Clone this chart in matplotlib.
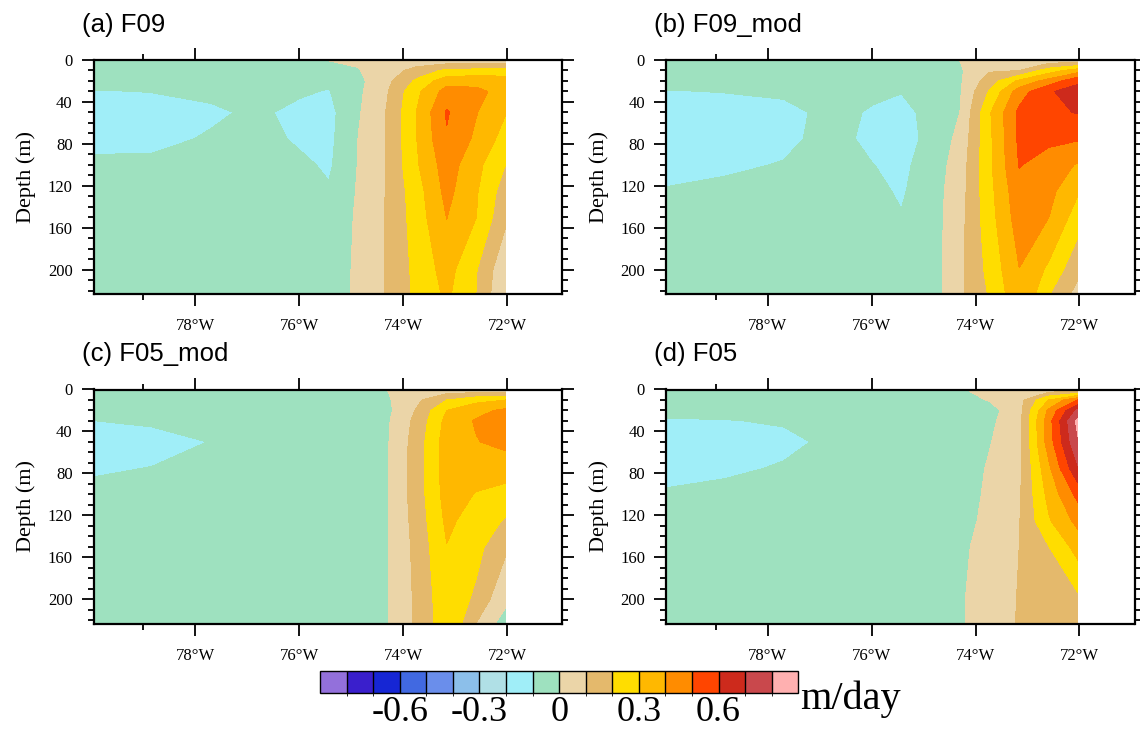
import matplotlib.pyplot as plt
from matplotlib import colors
import numpy as np

# grid of the section (longitude in degrees east, depth in m)
lons = [-79.96, -78.83, -77.69, -77.13, -76.56, -75.99, -75.43,
        -74.86, -74.29, -73.73, -73.16, -72.59, -72.03]
depths = [0, 10, 20, 30, 50, 75, 100, 125, 150, 200, 250]

# vertical velocity (m/day), one row per depth, one column per longitude
f09 = np.array([
    [-0.05, -0.05, -0.05, -0.05, -0.05, -0.04, 0.003, 0.01, 0.02, 0.03, 0.03, 0.03, 0.03],
    [-0.05, -0.05, -0.05, -0.05, -0.05, -0.05, -0.04, -0.004, 0.05, 0.14, 0.22, 0.23, 0.23],
    [-0.07, -0.07, -0.06, -0.05, -0.05, -0.06, -0.085, -0.025, 0.08, 0.22, 0.36, 0.37, 0.36],
    [-0.105, -0.098, -0.08, -0.06, -0.07, -0.09, -0.105, -0.02, 0.098, 0.28, 0.44, 0.42, 0.37],
    [-0.13, -0.13, -0.115, -0.095, -0.097, -0.12, -0.13, -0.01, 0.11, 0.305, 0.51, 0.405, 0.305],
    [-0.13, -0.125, -0.09, -0.07, -0.08, -0.115, -0.125, 0.002, 0.11, 0.302, 0.49, 0.38, 0.26],
    [-0.08, -0.08, -0.06, -0.05, -0.06, -0.08, -0.115, 0.005, 0.11, 0.29, 0.45, 0.33, 0.2],
    [-0.06, -0.06, -0.05, -0.05, -0.05, -0.06, -0.09, 0.01, 0.11, 0.26, 0.43, 0.31, 0.15],
    [-0.05, -0.05, -0.05, -0.05, -0.05, -0.05, -0.07, 0.015, 0.11, 0.25, 0.402, 0.3, 0.12],
    [-0.05, -0.05, -0.05, -0.05, -0.05, -0.05, -0.06, 0.02, 0.11, 0.23, 0.34, 0.205, 0.02],
    [-0.05, -0.05, -0.05, -0.05, -0.05, -0.05, -0.06, 0.02, 0.11, 0.22, 0.3, 0.19, -0.03],
])

f09_mod = np.array([
    [-0.05, -0.05, -0.05, -0.05, -0.05, -0.05, -0.05, -0.03, 0.002, 0.03, 0.03, 0.03, 0.03],
    [-0.05, -0.05, -0.05, -0.05, -0.05, -0.05, -0.05, -0.04, -0.01, 0.09, 0.1, 0.25, 0.35],
    [-0.07, -0.07, -0.06, -0.05, -0.05, -0.06, -0.08, -0.05, -0.01, 0.15, 0.32, 0.44, 0.58],
    [-0.105, -0.097, -0.085, -0.06, -0.07, -0.085, -0.097, -0.06, -0.005, 0.21, 0.45, 0.59, 0.64],
    [-0.14, -0.14, -0.125, -0.095, -0.085, -0.108, -0.125, -0.075, 0.002, 0.29, 0.523, 0.58, 0.605],
    [-0.14, -0.135, -0.12, -0.09, -0.085, -0.12, -0.13, -0.08, 0.03, 0.28, 0.52, 0.52, 0.51],
    [-0.125, -0.115, -0.095, -0.07, -0.07, -0.098, -0.12, -0.06, 0.05, 0.28, 0.505, 0.46, 0.39],
    [-0.095, -0.08, -0.07, -0.06, -0.06, -0.08, -0.11, -0.05, 0.06, 0.27, 0.47, 0.43, 0.31],
    [-0.07, -0.06, -0.05, -0.05, -0.05, -0.06, -0.095, -0.05, 0.07, 0.26, 0.45, 0.4, 0.25],
    [-0.05, -0.05, -0.05, -0.05, -0.05, -0.05, -0.06, -0.05, 0.08, 0.23, 0.398, 0.28, 0.12],
    [-0.05, -0.05, -0.05, -0.05, -0.05, -0.05, -0.05, -0.05, 0.08, 0.19, 0.35, 0.12, 0.02],
])

f05_mod = np.array([
    [-0.05, -0.05, -0.05, -0.05, -0.05, -0.05, -0.05, -0.03, 0.002, 0.03, 0.03, 0.03, 0.03],
    [-0.05, -0.05, -0.05, -0.05, -0.05, -0.05, -0.05, -0.05, -0.01, 0.08, 0.2, 0.27, 0.3],
    [-0.07, -0.07, -0.06, -0.05, -0.05, -0.05, -0.05, -0.05, -0.02, 0.11, 0.3, 0.37, 0.42],
    [-0.1007, -0.09, -0.07, -0.05, -0.05, -0.05, -0.05, -0.05, -0.01, 0.13, 0.33, 0.41, 0.46],
    [-0.13, -0.125, -0.098, -0.06, -0.05, -0.05, -0.05, -0.05, -0.005, 0.147, 0.35, 0.395, 0.43],
    [-0.11, -0.098, -0.07, -0.05, -0.05, -0.05, -0.05, -0.05, -0.002, 0.15, 0.35, 0.34, 0.34],
    [-0.08, -0.07, -0.06, -0.05, -0.05, -0.05, -0.05, -0.05, -0.002, 0.15, 0.34, 0.295, 0.27],
    [-0.06, -0.06, -0.05, -0.05, -0.05, -0.05, -0.05, -0.05, -0.002, 0.14, 0.32, 0.26, 0.19],
    [-0.05, -0.05, -0.05, -0.05, -0.05, -0.05, -0.05, -0.05, -0.002, 0.13, 0.297, 0.23, 0.12],
    [-0.05, -0.05, -0.05, -0.05, -0.05, -0.05, -0.05, -0.05, -0.002, 0.12, 0.27, 0.18, 0.01],
    [-0.05, -0.05, -0.05, -0.05, -0.05, -0.05, -0.05, -0.05, -0.002, 0.12, 0.25, 0.0, -0.05],
])

f05 = np.array([
    [-0.05, -0.05, -0.05, -0.05, -0.05, -0.05, -0.05, -0.04, -0.005, 0.02, 0.02, 0.03, 0.03],
    [-0.05, -0.05, -0.05, -0.05, -0.05, -0.05, -0.05, -0.05, -0.03, 0.005, 0.06, 0.3, 0.5],
    [-0.07, -0.07, -0.06, -0.05, -0.05, -0.05, -0.05, -0.05, -0.05, -0.035, 0.065, 0.42, 0.72],
    [-0.11, -0.105, -0.09, -0.06, -0.05, -0.05, -0.05, -0.05, -0.05, -0.02, 0.065, 0.46, 0.83],
    [-0.14, -0.14, -0.125, -0.097, -0.05, -0.05, -0.05, -0.05, -0.05, -0.005, 0.066, 0.45, 0.79],
    [-0.13, -0.12, -0.09, -0.07, -0.05, -0.05, -0.05, -0.05, -0.05, 0.01, 0.075, 0.38, 0.69],
    [-0.09, -0.07, -0.06, -0.05, -0.05, -0.05, -0.05, -0.05, -0.05, 0.02, 0.088, 0.33, 0.53],
    [-0.06, -0.05, -0.05, -0.05, -0.05, -0.05, -0.05, -0.05, -0.04, 0.03, 0.095, 0.29, 0.43],
    [-0.05, -0.05, -0.05, -0.05, -0.05, -0.05, -0.05, -0.05, -0.02, 0.04, 0.1, 0.198, 0.34],
    [-0.05, -0.05, -0.05, -0.05, -0.05, -0.05, -0.05, -0.05, -0.01, 0.05, 0.105, 0.14, 0.18],
    [-0.05, -0.05, -0.05, -0.05, -0.05, -0.05, -0.05, -0.05, -0.01, 0.05, 0.11, 0.12, 0.12],
])

panels = [f09, f09_mod, f05_mod, f05]
titles = ['(a) F09', '(b) F09_mod', '(c) F05_mod', '(d) F05']

xticks = [-78, -76, -74, -72]
xticklabels = ['78°W', '76°W', '74°W', '72°W']
yticks = [0, 40, 80, 120, 160, 200]

levels = np.round(np.arange(-0.8, 0.81, 0.1), 2)
cbar_ticks = [-0.6, -0.3, 0, 0.3, 0.6]
cbar_labels = ['-0.6', '-0.3', '0', '0.3', '0.6']

# 18 colours: below -0.8, 16 intervals, above 0.8
fill_colors = ['#9370db', '#3a1fcc', '#1626d4', '#4169e1', '#6a8eeb',
               '#8cbfea', '#b0e0e6', '#a0eef8', '#9ee1bf', '#ebd5a8',
               '#e4b96c', '#ffdd00', '#ffb800', '#ff8c00', '#ff4500',
               '#cd2a1c', '#c9484c', '#ffb0b0']

plt.rcParams['font.family'] = ['Liberation Serif', 'DejaVu Sans']

cmap = colors.ListedColormap(fill_colors[1:-1])
cmap.set_under(fill_colors[0])
cmap.set_over(fill_colors[-1])
norm = colors.BoundaryNorm(levels, cmap.N)

W, H = 1140, 731
fig = plt.figure(figsize=(W / 100, H / 100), dpi=100)

# axes boxes in pixels: left, top
boxes = [(93.5, 60), (666, 60), (93.5, 389.5), (666, 389.5)]
bw, bh = 468.5, 234

for i in range(4):
    x0, y0 = boxes[i]
    ax = fig.add_axes([x0 / W, 1 - (y0 + bh) / H, bw / W, bh / H])
    cf = ax.contourf(lons, depths, panels[i], levels=levels, cmap=cmap,
                     norm=norm, extend='both')
    ax.set_xlim(-79.96, -70.94)
    ax.set_ylim(223, 0)
    ax.set_xticks(xticks)
    ax.set_xticklabels(xticklabels)
    ax.set_xticks([-79], minor=True)
    ax.set_yticks(yticks)
    ax.set_yticks(np.arange(0, 224, 10), minor=True)
    ax.tick_params(which='both', direction='out', top=True, right=True,
                   width=1.3, labelsize=12)
    ax.tick_params(which='major', length=8.6)
    ax.tick_params(which='minor', length=4.3)
    ax.tick_params(axis='x', which='major', pad=9)
    ax.tick_params(axis='y', which='major', pad=6.5)
    for s in ax.spines.values():
        s.set_linewidth(1.6)
    ax.set_ylabel('Depth (m)', fontsize=16, labelpad=8)
    fig.text((x0 - 12) / W, 1 - (y0 - 28.3) / H, titles[i], fontsize=18.5,
             family='Liberation Sans', ha='left', va='baseline')

# colour bar with square end boxes
cax = fig.add_axes([320 / W, 1 - 692.7 / H, 478.3 / W, 21.7 / H])
cb = fig.colorbar(cf, cax=cax, orientation='horizontal', extendrect=True,
                  extendfrac=1 / 16, drawedges=True)
cb.set_ticks(cbar_ticks)
cb.set_ticklabels(cbar_labels)
cb.ax.tick_params(length=0, labelsize=26, pad=2.6)
cb.outline.set_linewidth(1.0)
cb.dividers.set_linewidth(1.0)
fig.text(800 / W, 1 - 709.3 / H, 'm/day', fontsize=29, ha='left',
         va='baseline')

fig.savefig('out.png', dpi=100)
